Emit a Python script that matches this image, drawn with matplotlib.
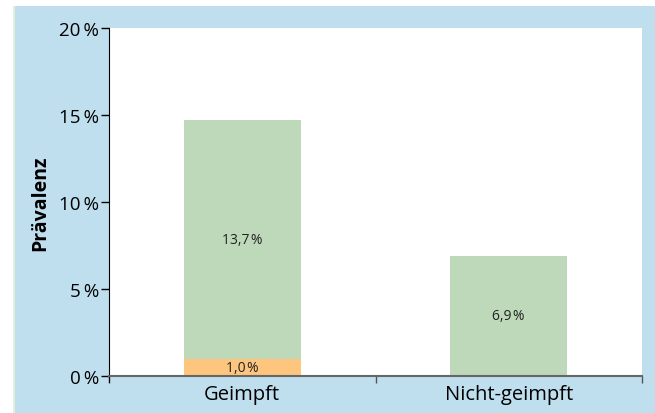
import matplotlib.pyplot as plt
from matplotlib.patches import Rectangle
from matplotlib.ticker import FixedLocator

# Data
groups = ['Geimpft', 'Nicht-geimpft']
lower = [1.0, 0.0]      # orange segment
upper = [13.7, 6.9]     # green segment
yticks = [0, 5, 10, 15, 20]

plt.rcParams['font.family'] = ['Open Sans', 'DejaVu Sans']

fig = plt.figure(figsize=(6.55, 4.14), dpi=100)
fig.patch.set_facecolor('white')

# light blue panel behind the chart
fig.add_artist(Rectangle((14 / 655, 0), 1 - 14 / 655, 407 / 414,
                         transform=fig.transFigure, facecolor='#c0dfee',
                         edgecolor='none', zorder=-10))
fig.add_artist(Rectangle((13 / 655, 0), 1.5 / 655, 407 / 414,
                         transform=fig.transFigure, facecolor='#e2efdd',
                         edgecolor='none', zorder=-10))

ax = fig.add_axes([109 / 655, 37 / 414, 533 / 655, 348 / 414])
ax.set_facecolor('white')

x = [0.5, 1.5]
w = 0.44
ax.bar(x, lower, width=w, color='#fdc57e', zorder=2)
ax.bar(x, upper, width=w, bottom=lower, color='#bdd9b9', zorder=2)

for xi, lo, up in zip(x, lower, upper):
    if lo > 0:
        ax.text(xi, lo / 2, f'{lo:.1f}'.replace('.', ',') + '\u200a%',
                ha='center', va='center', fontsize=10, color='#222222')
    ax.text(xi, lo + up / 2, f'{up:.1f}'.replace('.', ',') + '\u200a%',
            ha='center', va='center', fontsize=10, color='#222222')

ax.set_xlim(0, 2)
ax.set_ylim(0, 20)
ax.set_yticks(yticks)
ax.set_yticklabels([f'{t}\u2009%' for t in yticks], fontsize=13.5)
ax.tick_params(axis='y', length=6, width=1, pad=1, color='black')

ax.set_xticks([0, 1, 2])
ax.set_xticklabels([])
ax.xaxis.set_minor_locator(FixedLocator(x))
ax.set_xticklabels(groups, minor=True, fontsize=14.5)
ax.tick_params(axis='x', which='major', length=5, width=1, color='#555555')
ax.tick_params(axis='x', which='minor', length=0, pad=6)

for s in ['top', 'right']:
    ax.spines[s].set_visible(False)
ax.spines['left'].set_color('black')
ax.spines['left'].set_bounds(-0.35, 20)
ax.spines['bottom'].set_color('#666666')
ax.spines['bottom'].set_linewidth(1.5)

ax.set_ylabel('Prävalenz', fontsize=14, fontweight='bold')
ax.yaxis.set_label_coords(-0.11, 0.5)

fig.savefig('out.png', dpi=100)
